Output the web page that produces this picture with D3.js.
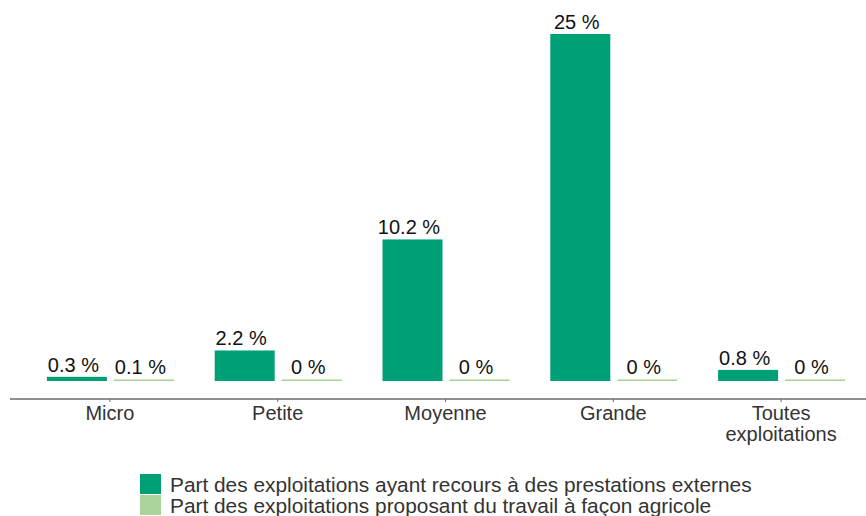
<!DOCTYPE html>
<html>
<head>
<meta charset="utf-8">
<script src="https://cdn.jsdelivr.net/npm/d3@7"></script>
<style>
  body { margin: 0; background: #fff; }
  text { font-family: "Liberation Sans", Arial, Helvetica, sans-serif; }
</style>
</head>
<body>
<script>
const width = 866;
const height = 516;

// data
const categories = ['Micro', 'Petite', 'Moyenne', 'Grande', 'Toutes exploitations'];
const externes = [0.3, 2.2, 10.2, 25, 0.8];
const proposant = [0.1, 0, 0, 0, 0];
const seriesNames = [
  'Part des exploitations ayant recours à des prestations externes',
  'Part des exploitations proposant du travail à façon agricole'
];
const colors = ['#00a077', '#abd49c'];

const barBase = 381;   // bottom of bars
const axisY = 399;     // axis line sits a bit below the bars
const barW = 60;

const svg = d3.select('body')
  .append('svg')
  .attr('width', width)
  .attr('height', height);

const x = d3.scaleBand()
  .domain(categories)
  .range([26, 865]);

const y = d3.scaleLinear()
  .domain([0, 25])
  .range([barBase, 34]);

// axis line
svg.append('line')
  .attr('x1', 10).attr('x2', width)
  .attr('y1', axisY).attr('y2', axisY)
  .attr('stroke', '#6b6b6b')
  .attr('stroke-width', 1.5);

// tiny ticks
svg.selectAll('.tick')
  .data(categories)
  .enter()
  .append('line')
  .attr('x1', d => x(d) + x.bandwidth() / 2)
  .attr('x2', d => x(d) + x.bandwidth() / 2)
  .attr('y1', axisY)
  .attr('y2', axisY + 3)
  .attr('stroke', '#6b6b6b');

const series = [externes, proposant];
series.forEach(function(vals, s) {
  const offset = s === 0 ? -3 - barW : 4;
  const g = svg.append('g');
  vals.forEach(function(v, i) {
    const cx = x(categories[i]) + x.bandwidth() / 2;
    const bx = cx + offset;
    const h = Math.max(barBase - y(v), 1.6);
    g.append('rect')
      .attr('x', bx)
      .attr('y', barBase - h)
      .attr('width', barW)
      .attr('height', h)
      .attr('fill', colors[s]);
    g.append('text')
      .attr('x', bx + barW / 2 - 3.5)
      .attr('y', barBase - h - 5)
      .attr('text-anchor', 'middle')
      .attr('font-size', 20)
      .attr('fill', '#111')
      .text(String(v) + ' %');
  });
});

// category labels
categories.forEach(function(c) {
  const cx = x(c) + x.bandwidth() / 2;
  const t = svg.append('text')
    .attr('x', cx)
    .attr('y', 420)
    .attr('text-anchor', 'middle')
    .attr('font-size', 20)
    .attr('fill', '#333');
  if (c === 'Toutes exploitations') {
    t.append('tspan').attr('x', cx).text('Toutes');
    t.append('tspan').attr('x', cx).attr('dy', 21).text('exploitations');
  } else {
    t.text(c);
  }
});

// legend
const legend = svg.append('g');
seriesNames.forEach(function(name, i) {
  legend.append('rect')
    .attr('x', 140)
    .attr('y', 474 + i * 21)
    .attr('width', 21)
    .attr('height', 20)
    .attr('fill', colors[i]);
  legend.append('text')
    .attr('x', 170)
    .attr('y', 492 + i * 21)
    .attr('font-size', 20.85)
    .attr('fill', '#333')
    .text(name);
});
</script>
</body>
</html>
